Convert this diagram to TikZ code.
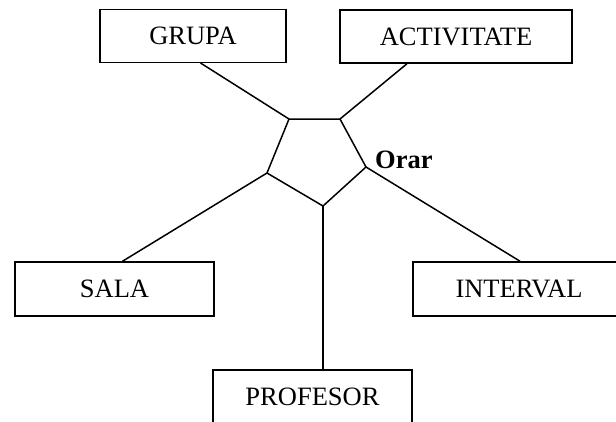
\documentclass[tikz,border=0pt]{standalone}
\usepackage{fontspec}
\setmainfont{Liberation Serif}
\usetikzlibrary{calc}
\begin{document}
\begin{tikzpicture}[x=1pt,y=-1pt,
  entity/.style={draw, rectangle, line width=1.5pt, minimum height=53pt,
    inner sep=0pt, font=\fontsize{26.5}{30}\selectfont},
  link/.style={line width=1.5pt},
  relbox/.style={line width=1.5pt, line join=miter}]
  \useasboundingbox (0,0) rectangle (616,421);

  % entities
  \node[entity, minimum width=186pt] (grupa) at (193,35.75) {GRUPA};
  \node[entity, minimum width=232pt] (activ) at (456,36.5) {ACTIVITATE};
  \node[entity, minimum width=199pt, minimum height=54pt] (sala) at (114.5,289) {SALA};
  \node[entity, minimum width=212pt, minimum height=54pt] (interval) at (519,289) {INTERVAL};
  \node[entity, minimum width=199pt, minimum height=54pt] (prof) at (312.5,397) {PROFESOR};

  % relationship pentagon
  \coordinate (ptl) at (289,119);
  \coordinate (ptr) at (340,119);
  \coordinate (pr)  at (366,167);
  \coordinate (pb)  at (323,206);
  \coordinate (pl)  at (267,173);
  \draw[relbox] (ptl) -- (ptr) -- (pr) -- (pb) -- (pl) -- cycle;
  \node[anchor=base west, inner sep=0pt, font=\fontsize{26.5}{30}\selectfont\bfseries]
    (orar) at (375,168) {Orar};

  % connectors
  \draw[link] (ptl) -- ($(grupa.south west)!0.54!(grupa.south east)$);
  \draw[link] (ptr) -- ($(activ.south west)!0.29!(activ.south east)$);
  \draw[link] (pl) -- ($(sala.north west)!0.54!(sala.north east)$);
  \draw[link] (pr) -- ($(interval.north west)!0.505!(interval.north east)$);
  \draw[link] (pb) -- (pb |- prof.north);
\end{tikzpicture}
\end{document}
